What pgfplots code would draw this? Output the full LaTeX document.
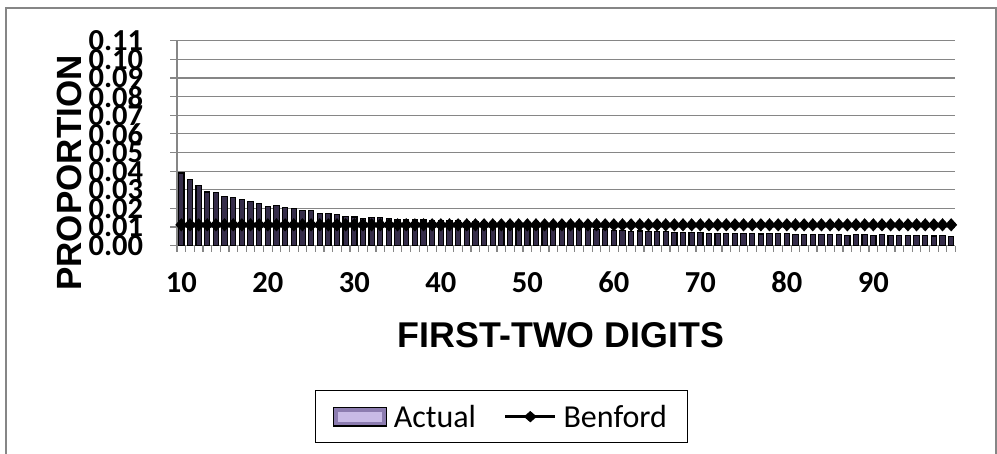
\documentclass[border=0pt]{standalone}
\usepackage{pgfplots}
\pgfplotsset{compat=1.18}
\usepackage{pgfplotstable}
\usepackage{fontspec}
\setmainfont{Carlito}
\newfontfamily\arialfont{Liberation Sans}
\definecolor{gridgray}{RGB}{134,134,134}
\definecolor{barfill}{RGB}{54,45,74}
\definecolor{lav}{RGB}{200,186,230}
\definecolor{lavdark}{RGB}{140,124,176}

\pgfplotstableread{
x y
10 0.0390
11 0.0354
12 0.0324
13 0.0288
14 0.0286
15 0.0265
16 0.0258
17 0.0250
18 0.0236
19 0.0224
20 0.0209
21 0.0215
22 0.0204
23 0.0200
24 0.0188
25 0.0190
26 0.0175
27 0.0175
28 0.0166
29 0.0157
30 0.0154
31 0.0147
32 0.0150
33 0.0150
34 0.0145
35 0.0140
36 0.0138
37 0.0138
38 0.0138
39 0.0136
40 0.0134
41 0.0136
42 0.0136
43 0.0132
44 0.0130
45 0.0128
46 0.0127
47 0.0124
48 0.0122
49 0.0120
50 0.0117
51 0.0114
52 0.0111
53 0.0104
54 0.0097
55 0.0094
56 0.0093
57 0.0090
58 0.0087
59 0.0086
60 0.0082
61 0.0080
62 0.0078
63 0.0079
64 0.0077
65 0.0075
66 0.0075
67 0.0072
68 0.0071
69 0.0070
70 0.0069
71 0.0067
72 0.0067
73 0.0065
74 0.0066
75 0.0064
76 0.0066
77 0.0063
78 0.0064
79 0.0065
80 0.0067
81 0.0062
82 0.0061
83 0.0060
84 0.0061
85 0.0058
86 0.0059
87 0.0057
88 0.0058
89 0.0060
90 0.0056
91 0.0058
92 0.0055
93 0.0054
94 0.0055
95 0.0053
96 0.0054
97 0.0052
98 0.0053
99 0.0051
}\actualdata

\pgfplotstableread{
x y
10 0.0112
11 0.0112
12 0.0112
13 0.0112
14 0.0112
15 0.0112
16 0.0112
17 0.0112
18 0.0112
19 0.0112
20 0.0112
21 0.0112
22 0.0112
23 0.0112
24 0.0112
25 0.0112
26 0.0112
27 0.0112
28 0.0112
29 0.0112
30 0.0112
31 0.0112
32 0.0112
33 0.0112
34 0.0112
35 0.0112
36 0.0112
37 0.0112
38 0.0112
39 0.0112
40 0.0112
41 0.0112
42 0.0112
43 0.0112
44 0.0112
45 0.0112
46 0.0112
47 0.0112
48 0.0112
49 0.0112
50 0.0112
51 0.0112
52 0.0112
53 0.0112
54 0.0112
55 0.0112
56 0.0112
57 0.0112
58 0.0112
59 0.0112
60 0.0112
61 0.0112
62 0.0112
63 0.0112
64 0.0112
65 0.0112
66 0.0112
67 0.0112
68 0.0112
69 0.0112
70 0.0112
71 0.0112
72 0.0112
73 0.0112
74 0.0112
75 0.0112
76 0.0112
77 0.0112
78 0.0112
79 0.0112
80 0.0112
81 0.0112
82 0.0112
83 0.0112
84 0.0112
85 0.0112
86 0.0112
87 0.0112
88 0.0112
89 0.0112
90 0.0112
91 0.0112
92 0.0112
93 0.0112
94 0.0112
95 0.0112
96 0.0112
97 0.0112
98 0.0112
99 0.0112
}\benforddata

\begin{document}
\begin{tikzpicture}[x=1pt,y=1pt]
\useasboundingbox (0,0) rectangle (997,454);
\draw[gridgray, line width=2pt] (5.5,-3) -- (5.5,445.7) -- (996,445.7) -- (996,-3);
\begin{axis}[
  at={(177pt,208.3pt)}, anchor=south west, scale only axis,
  width=778.5pt, height=205pt,
  xmin=9.5, xmax=99.5, ymin=0, ymax=0.11,
  axis lines*=left,
  axis line style={gridgray, line width=1.3pt},
  ymajorgrids,
  major grid style={gridgray, line width=1.2pt},
  ytick={0,0.01,0.02,0.03,0.04,0.05,0.06,0.07,0.08,0.09,0.10,0.11},
  yticklabels={0.00,0.01,0.02,0.03,0.04,0.05,0.06,0.07,0.08,0.09,0.10,0.11},
  xtick={10,20,30,40,50,60,70,80,90},
  xticklabels={10,20,30,40,50,60,70,80,90},
  minor xtick={9.5,10.5,...,99.5},
  tick align=outside,
  major tick length=7pt,
  minor tick length=6pt,
  major x tick style={draw=none},
  minor x tick style={draw=gridgray, line width=1.2pt},
  major y tick style={draw=gridgray, line width=1.2pt},
  ticklabel style={font=\fontsize{30.5}{31}\selectfont\bfseries},
  yticklabel style={anchor=east, inner sep=0pt, xshift=-26.7pt},
  xticklabel style={anchor=base, inner sep=0pt, yshift=-40pt},
  clip=false,
  legend columns=2,
  legend style={at={(axis description cs:0.4162,-0.834)}, anchor=center,
    draw=black, line width=1pt,
    font=\fontsize{32}{36}\selectfont,
    inner xsep=18pt, inner ysep=12pt,
    /tikz/every even column/.append style={column sep=26pt},
    /tikz/every odd column/.append style={column sep=5pt}},
]
\addplot[ybar, bar width=5.3pt, fill=barfill, draw=black, line width=1.1pt,
  legend image code/.code={
    \draw[draw=black, line width=1.2pt, fill=lavdark] (0pt,-9.3pt) rectangle (52.6pt,9.3pt);
    \fill[lav] (5pt,-4.5pt) rectangle (47.6pt,4.5pt);
  }] table[x=x,y=y] {\actualdata};
\addlegendentry{Actual}
\addplot[black, line width=3.3pt, mark=diamond*, mark size=4.2pt,
  mark options={xscale=1.2, solid},
  legend image code/.code={
    \draw[black, line width=2.5pt] (0pt,0pt) -- (50pt,0pt);
    \fill[black] (21pt,0pt) -- (25pt,3.5pt) -- (29pt,0pt) -- (25pt,-3.5pt) -- cycle;
  }] table[x=x,y=y] {\benforddata};
\addlegendentry{Benford}
\end{axis}
\node[font=\arialfont\fontsize{35.8}{40}\selectfont\bfseries, anchor=base, inner sep=0pt] at (561,106) {FIRST-TWO DIGITS};
\node[font=\arialfont\fontsize{35}{40}\selectfont\bfseries, anchor=base, rotate=90, inner sep=0pt] at (81.7,281) {PROPORTION};
\end{tikzpicture}
\end{document}
